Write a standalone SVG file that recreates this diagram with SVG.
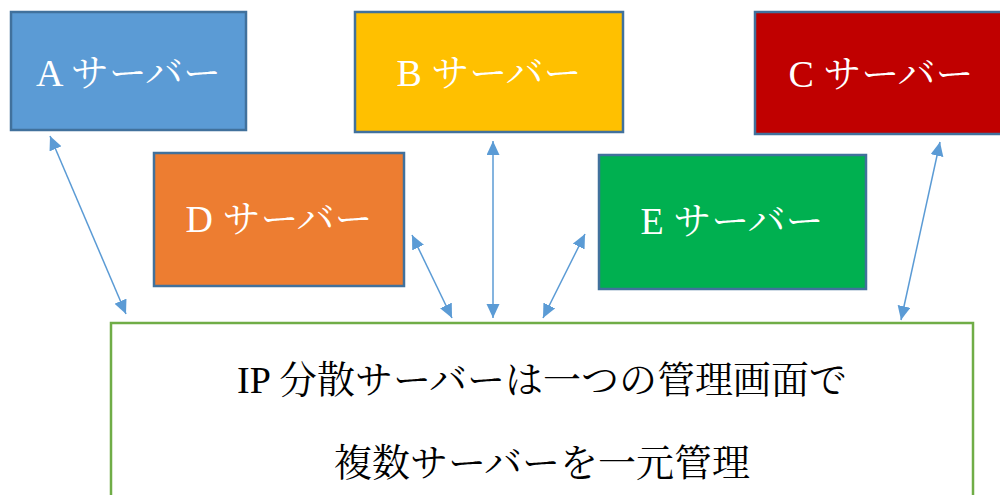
<svg xmlns="http://www.w3.org/2000/svg" width="1000" height="495" viewBox="0 0 1000 495">
<style>
.box{stroke:#41719C;stroke-width:2.5}
.lbl{font-family:"Liberation Serif","Noto Serif CJK JP","Noto Sans CJK JP",serif;font-size:38px;fill:#fff;text-anchor:middle}
.main{font-family:"Liberation Serif","Noto Serif CJK JP","Noto Sans CJK JP",serif;font-size:38px;fill:#000;text-anchor:middle}
.conn{stroke:#5B9BD5;stroke-width:1.5;fill:none;marker-start:url(#ah);marker-end:url(#ah)}
</style>
<defs>
<marker id="ah" markerUnits="userSpaceOnUse" markerWidth="16" markerHeight="14" refX="14" refY="6.5" orient="auto-start-reverse">
<path d="M0,0 L14,6.5 L0,13 z" fill="#5B9BD5"/>
</marker>
</defs>
<rect width="1000" height="495" fill="#fff"/>
<g id="nodeA"><rect class="box" x="11" y="12" width="235" height="118" fill="#5B9BD5"/><text class="lbl" x="128.5" y="86">A サーバー</text></g>
<g id="nodeB"><rect class="box" x="355" y="12" width="268" height="120" fill="#FFC000"/><text class="lbl" x="489" y="86">B サーバー</text></g>
<g id="nodeC"><rect class="box" x="755" y="12" width="252" height="122" fill="#C00000"/><text class="lbl" x="881" y="87">C サーバー</text></g>
<g id="nodeD"><rect class="box" x="154" y="153" width="250" height="133" fill="#ED7D31"/><text class="lbl" x="279" y="232">D サーバー</text></g>
<g id="nodeE"><rect class="box" x="599" y="155" width="267" height="134" fill="#00B050"/><text class="lbl" x="732" y="234">E サーバー</text></g>
<g id="nodeIP"><rect x="111" y="323" width="862" height="185" fill="#fff" stroke="#70AD47" stroke-width="2.5"/>
<text class="main" x="542" y="393">IP 分散サーバーは一つの管理画面で</text>
<text class="main" x="542" y="476">複数サーバーを一元管理</text></g>
<g id="connectors">
<line class="conn" x1="50" y1="136" x2="126" y2="314"/>
<line class="conn" x1="412" y1="235" x2="452" y2="318"/>
<line class="conn" x1="493" y1="141" x2="493" y2="318"/>
<line class="conn" x1="585" y1="234" x2="543" y2="318"/>
<line class="conn" x1="940" y1="142" x2="901" y2="320"/>
</g>
</svg>
